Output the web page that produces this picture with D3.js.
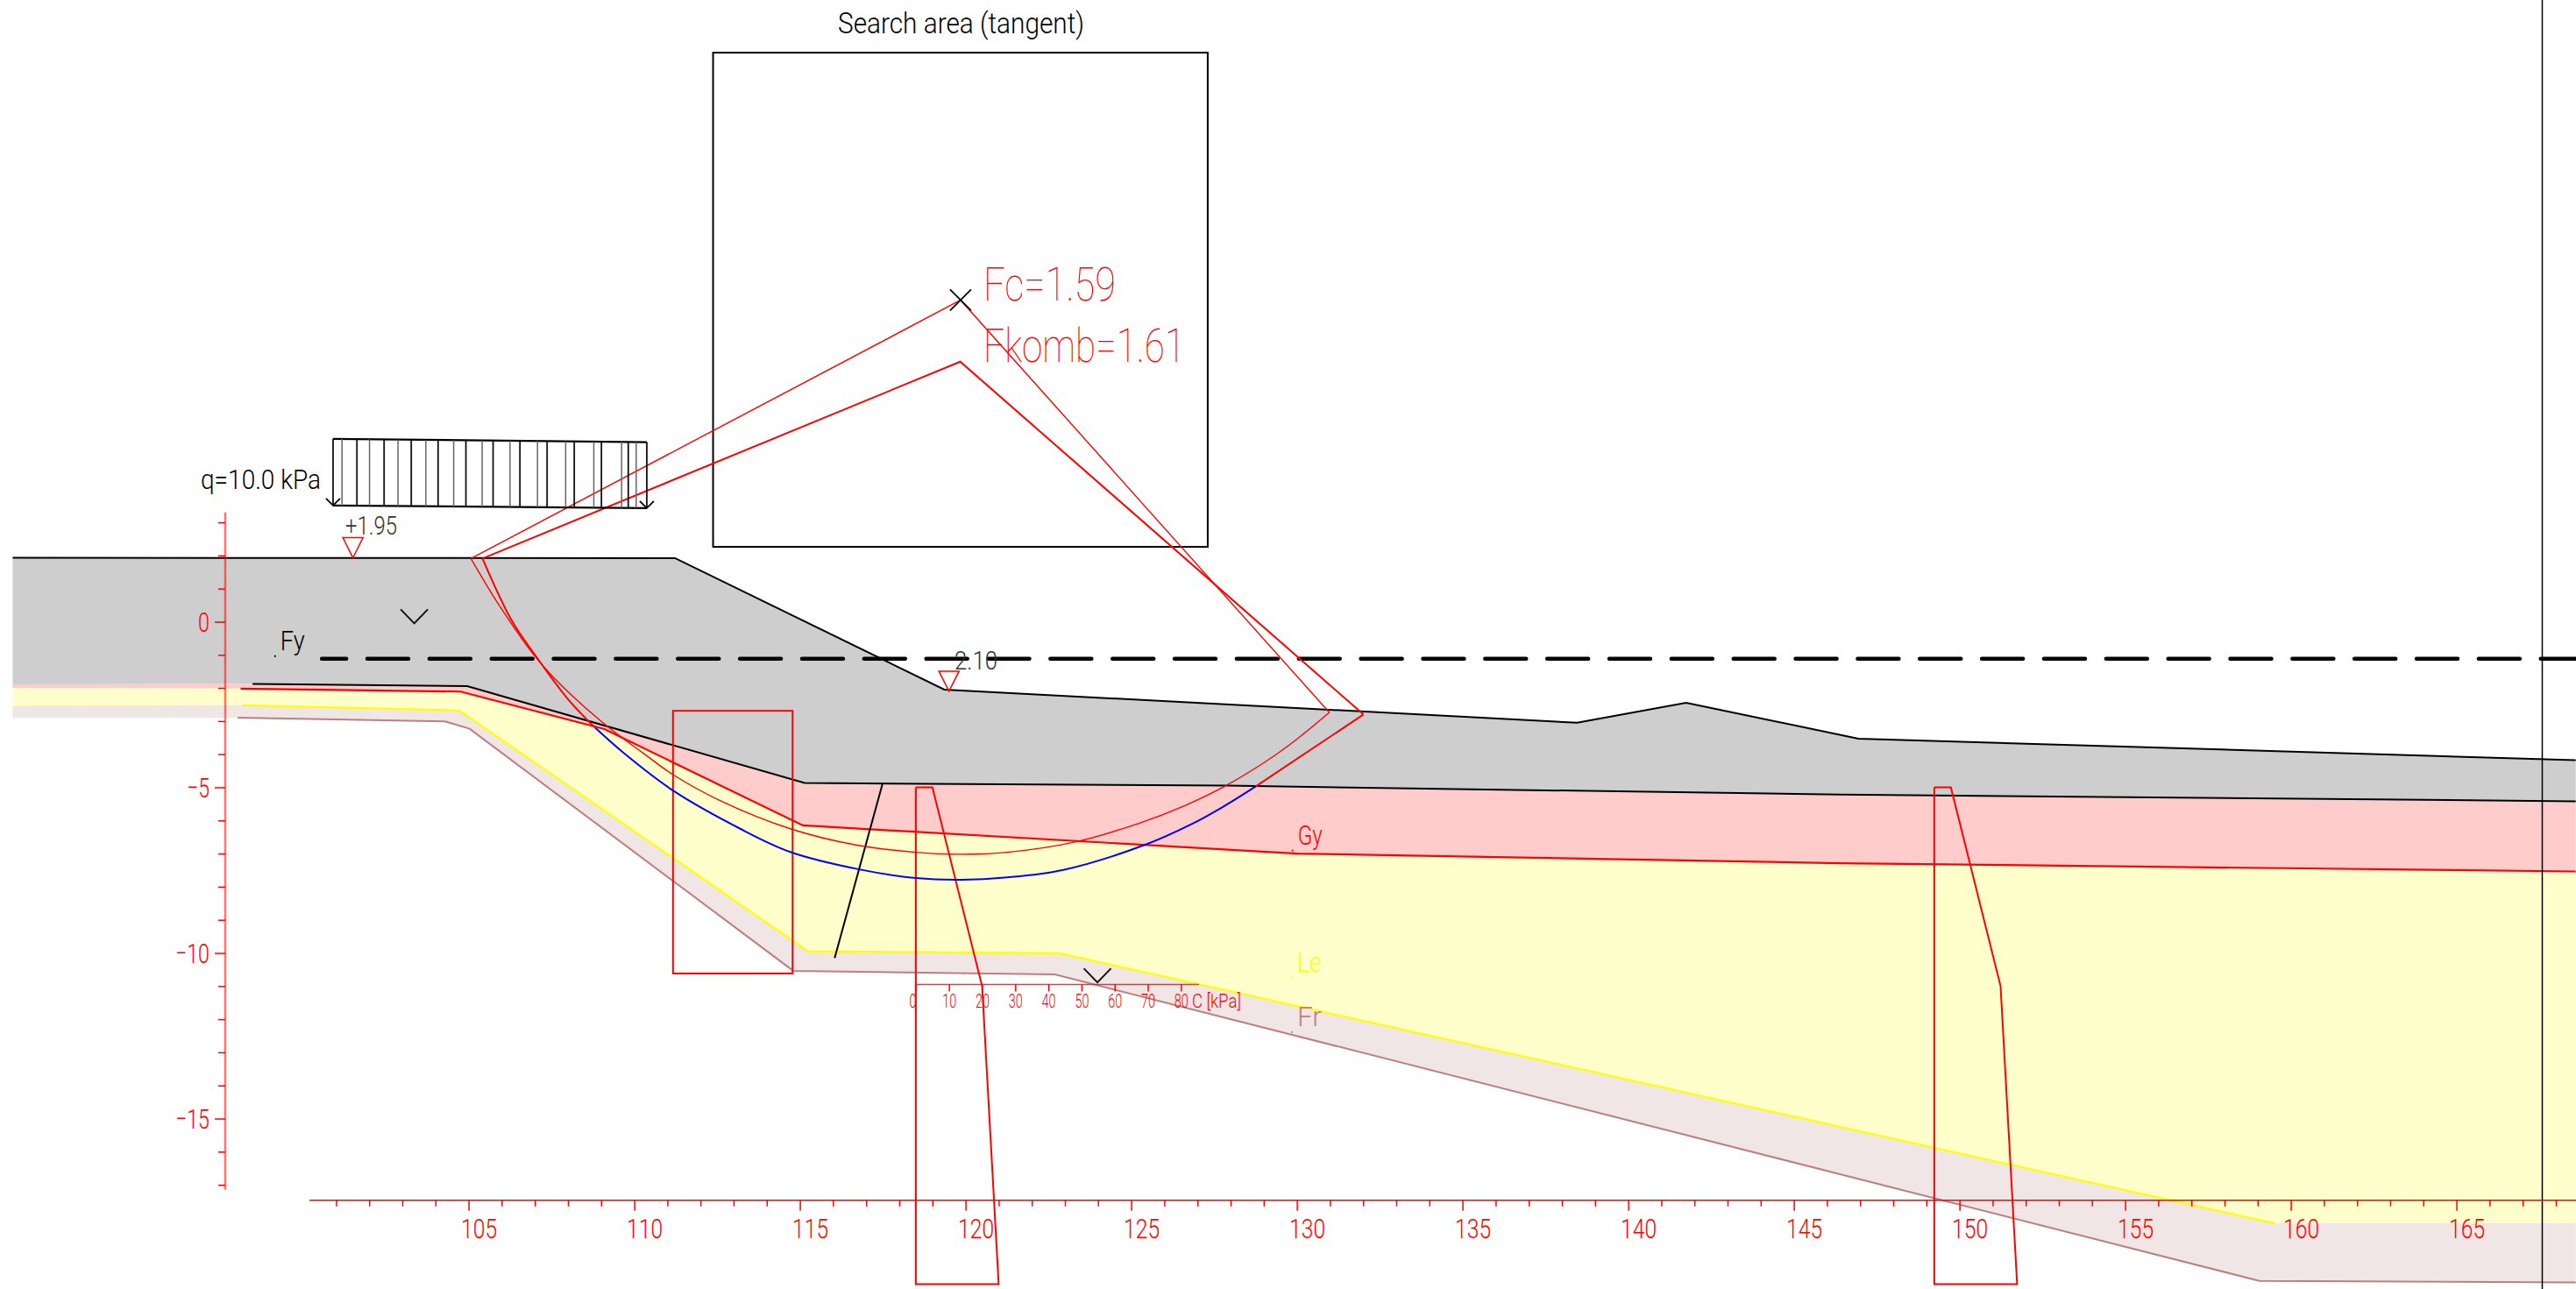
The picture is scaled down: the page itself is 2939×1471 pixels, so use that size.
<!DOCTYPE html>
<html>
  <head>
    <meta charset="utf-8">
    <title>Slope stability section</title>
    <script src="https://cdn.jsdelivr.net/npm/d3@7"></script>
    <style type="text/css">
      body { margin: 0; background: #fff; }
      svg { display: block; }
      text { font-family: Roboto, "Open Sans", sans-serif; font-weight: 300; }
      text.big { font-weight: 100; }
    </style>
  </head>
  <body>
    <script>
    // Layer boundaries, [chainage m, elevation m]
    var groundTop = [[91.24, 1.93], [111.23, 1.92], [119.36, -2.05], [138.46, -3.05], [141.75, -2.45], [146.95, -3.53], [168.6, -4.18]];
    var fyBottom = [[91.24, -1.89], [98.48, -1.88], [104.96, -1.945], [115.14, -4.87], [127.9, -4.95], [146.4, -5.22], [168.6, -5.42]];
    var gyBottom = [[91.24, -2.0], [98.12, -2.02], [104.76, -2.11], [109.1, -3.24], [115.09, -6.15], [130, -7.0], [146.4, -7.29], [168.6, -7.54]];
    var leBottom = [[91.24, -2.53], [98.17, -2.52], [104.72, -2.68], [115.25, -9.95], [122.84, -10.01], [159.5, -18.16], [168.6, -18.16]];
    var frBottom = [[91.24, -2.9], [98.03, -2.9], [104.29, -3.01], [105.03, -3.23], [114.8, -10.54], [122.7, -10.65], [159.05, -19.9], [168.6, -19.95]];

    // Failure surfaces
    var fcCentre = [119.85, 9.71];
    var fcEntry = [105.07, 1.91];
    var fcExit = [130.98, -2.74];
    var fcArc = [[105.07, 1.91], [105.94, 0.47], [106.99, -1.03], [107.88, -2.0], [109.2, -3.17], [110.26, -3.96], [111.16, -4.61], [112.59, -5.4], [114.71, -6.25], [116.69, -6.74], [118.51, -6.96], [119.8, -7.02], [121.25, -6.96], [123.3, -6.65], [125.25, -6.08], [126.62, -5.55], [127.89, -4.93], [129.3, -4.06], [130.06, -3.5], [130.98, -2.74]];
    var kombCentre = [119.84, 7.85];
    var kombEntry = [105.42, 1.91];
    var kombExit = [132.01, -2.8];
    var kombArcRed1 = [[105.42, 1.91], [106.29, 0.06], [106.99, -0.98], [108.01, -2.35], [108.83, -3.21]];
    var kombArcBlue = [[108.83, -3.21], [109.69, -3.97], [111.16, -5.09], [113.2, -6.25], [114.71, -6.95], [116.76, -7.47], [118.51, -7.74], [119.88, -7.79], [121.25, -7.72], [122.92, -7.5], [125.35, -6.76], [126.88, -6.08], [127.85, -5.54], [128.76, -4.97]];
    var kombArcRed2 = [[128.76, -4.97], [132.01, -2.8]];

    // Search area and the block next to the slope
    var searchX = [112.38, 127.31];
    var searchY = [2.26, 17.18];
    var blockX = [111.17, 114.78];
    var blockY = [-10.62, -2.69];
    var blackLine = [[117.49, -4.91], [116.05, -10.15]];

    // Surcharge
    var loadX = [100.91, 110.38];
    var loadTop = [5.52, 5.42];
    var loadBottom = [3.51, 3.43];
    var loadMain = [100.91, 101.63, 102.45, 103.27, 104.08, 104.92, 105.74, 106.55, 107.37, 108.19, 109.01, 109.82, 110.38];
    var loadThin = [101.18, 102.01, 102.87, 103.71, 104.55, 105.41, 106.25, 107.08, 107.93, 108.78, 109.62, 110.06];

    // Shear strength profiles: c [kPa] against elevation
    var profileAt = [118.5, 149.24];
    var profileC = [0, 5, 20, 25, 0];
    var profileZ = [-5, -5, -11, -20, -20];
    var cTicks = [0, 10, 20, 30, 40, 50, 60, 70, 80];
    var cAxisZ = -10.95;
    var cAxisMax = 85.5;

    var waterLevel = -1.116;
    var waterStart = 100.57;
    var sectionLine = 167.59;
    var levelMarks = [[101.51, 1.93, "+1.95"], [119.5, -2.1, "2.10"]];
    var chevrons = [[103.36, -0.05], [123.98, -10.89]];
    var layerLabels = [
      [99.16, -1.04, "Fy", "#000"],
      [129.87, -6.91, "Gy", "#ff0000"],
      [129.85, -10.75, "Le", "#ffff00"],
      [129.85, -12.39, "Fr", "#bc8080"]
    ];

    var xMajor = [105, 110, 115, 120, 125, 130, 135, 140, 145, 150, 155, 160, 165];
    var xMinor = d3.range(101, 169).filter(function(d) { return d % 5 !== 0; });
    var yMajor = [0, -5, -10, -15];
    var yMinor = d3.range(3, -18, -1).filter(function(d) { return d % 5 !== 0; });

    var width = 2939, height = 1471;
    var red = "#ff0000";

    var svg = d3.select("body").append("svg")
      .attr("width", width)
      .attr("height", height);

    // same scale both ways, the section is drawn true to size
    var x = d3.scaleLinear().domain([105, 165]).range([534.6, 2802.6]);
    var y = d3.scaleLinear().domain([0, -15]).range([709.5, 1276.5]);
    var line = d3.line().x(function(d) { return x(d[0]); }).y(function(d) { return y(d[1]); });
    var smooth = d3.line().x(function(d) { return x(d[0]); }).y(function(d) { return y(d[1]); })
      .curve(d3.curveCatmullRom);

    function band(top, bottom, fill) {
      svg.append("path")
        .attr("d", line(top.concat(bottom.slice().reverse())) + "Z")
        .attr("fill", fill);
    }
    function stroke(points, color, w, gen) {
      return svg.append("path")
        .attr("d", (gen || line)(points))
        .attr("fill", "none")
        .attr("stroke", color)
        .attr("stroke-width", w);
    }
    function label(str, px, py, size, w, color, anchor) {
      return svg.append("text")
        .attr("x", px).attr("y", py)
        .attr("font-size", size)
        .attr("fill", color)
        .attr("text-anchor", anchor || "start")
        .attr("textLength", w)
        .attr("lengthAdjust", "spacingAndGlyphs")
        .text(str);
    }

    //Soil layers
    band(groundTop, fyBottom, "#cecece");
    band(fyBottom, gyBottom, "#ffcccc");
    band(gyBottom, leBottom, "#ffffcc");
    band(leBottom, frBottom, "#f0e6e6");

    stroke(groundTop, "#000", 2);
    stroke(fyBottom.slice(1), "#000", 2);
    stroke(gyBottom.slice(1), red, 2.2);
    stroke(leBottom.slice(1, 6), "#ffff00", 2.2);
    stroke(frBottom.slice(1), "#bc8080", 2);

    //Groundwater
    svg.append("line")
      .attr("x1", x(waterStart)).attr("x2", width)
      .attr("y1", y(waterLevel)).attr("y2", y(waterLevel))
      .attr("stroke", "#000")
      .attr("stroke-width", 4.5)
      .attr("stroke-linecap", "round")
      .attr("stroke-dasharray", "47 23.85")
      .attr("stroke-dashoffset", 19);

    //Search area
    svg.append("rect")
      .attr("x", x(searchX[0])).attr("y", y(searchY[1]))
      .attr("width", x(searchX[1]) - x(searchX[0]))
      .attr("height", y(searchY[0]) - y(searchY[1]))
      .attr("fill", "none").attr("stroke", "#000").attr("stroke-width", 2);
    label("Search area (tangent)", 956, 38, 33, 281, "#000");

    //Block and black line
    svg.append("rect")
      .attr("x", x(blockX[0])).attr("y", y(blockY[1]))
      .attr("width", x(blockX[1]) - x(blockX[0]))
      .attr("height", y(blockY[0]) - y(blockY[1]))
      .attr("fill", "none").attr("stroke", red).attr("stroke-width", 2);
    stroke(blackLine, "#000", 2);

    //Strength profiles
    var cAxisScale = d3.scaleLinear().domain([0, 10]).range([0, x(1) - x(0)]);
    profileAt.forEach(function(x0) {
      var pts = profileC.map(function(c, i) {
        return [x.invert(x(x0) + cAxisScale(c)), profileZ[i]];
      });
      pts.push(pts[0]);
      stroke(pts, red, 2);
    });

    //c axis under the first profile
    var cScale = d3.scaleLinear().domain([0, 80])
      .range([x(profileAt[0]), x(profileAt[0]) + cAxisScale(80)]);
    var cAxis = svg.append("g")
      .attr("transform", "translate(0," + y(cAxisZ) + ")")
      .call(d3.axisBottom(cScale).tickValues(cTicks).tickSizeOuter(0).tickSize(8));
    cAxis.select(".domain").remove();
    cAxis.selectAll("line").attr("stroke", red).attr("stroke-width", 1.5);
    cAxis.attr("font-family", null);
    cAxis.selectAll("text")
      .attr("fill", red).attr("y", 27).attr("dy", 0)
      .attr("dx", function(d) { return d === 0 ? -4 : 0; })
      .attr("font-size", 22)
      .attr("textLength", function(d) { return String(d).length * 8; })
      .attr("lengthAdjust", "spacingAndGlyphs");
    svg.append("line")
      .attr("x1", x(profileAt[0])).attr("x2", cScale(cAxisMax))
      .attr("y1", y(cAxisZ)).attr("y2", y(cAxisZ))
      .attr("stroke", red).attr("stroke-width", 1.5).attr("opacity", 0.8);
    label("C [kPa]", x(profileAt[0]) + 315, y(cAxisZ) + 27, 22, 56, red);

    //Failure surfaces
    stroke([fcEntry, fcCentre, fcExit], red, 1.4);
    stroke(fcArc, red, 1.4, smooth);
    stroke([kombEntry, kombCentre, kombExit], red, 2);
    stroke(kombArcRed1, red, 2, smooth);
    stroke(kombArcBlue, "#0000ff", 2, smooth);
    stroke(kombArcRed2, red, 2);

    //Centre cross
    svg.append("path")
      .attr("d", "M-12,-12L12,12M-12,12L12,-12")
      .attr("transform", "translate(" + x(fcCentre[0]) + "," + y(fcCentre[1]) + ")")
      .attr("fill", "none").attr("stroke", "#000").attr("stroke-width", 1.8);
    label("Fc=1.59", 1122, 342.7, 54, 151, red).attr("class", "big");
    label("Fkomb=1.61", 1122, 413.3, 54, 230, red).attr("class", "big");

    //Surcharge q
    var loadTopY = d3.scaleLinear().domain(loadX).range(loadTop);
    var loadBotY = d3.scaleLinear().domain(loadX).range(loadBottom);
    stroke(loadX.map(function(d) { return [d, loadTopY(d)]; }), "#000", 2.2);
    stroke(loadX.map(function(d) { return [d, loadBotY(d)]; }), "#000", 2.2);
    svg.selectAll(".loadMain").data(loadMain).enter().append("line")
      .attr("class", "loadMain")
      .attr("x1", x).attr("x2", x)
      .attr("y1", function(d) { return y(loadTopY(d)); })
      .attr("y2", function(d) { return y(loadBotY(d)); })
      .attr("stroke", "#111").attr("stroke-width", 1.8);
    svg.selectAll(".loadThin").data(loadThin).enter().append("line")
      .attr("class", "loadThin")
      .attr("x1", x).attr("x2", x)
      .attr("y1", function(d) { return y(loadTopY(d)); })
      .attr("y2", function(d) { return y(loadBotY(d)); })
      .attr("stroke", "#666").attr("stroke-width", 1.5);
    svg.selectAll(".loadArrow").data(loadX).enter().append("path")
      .attr("class", "loadArrow")
      .attr("d", "M-8,-8L0,0L8,-8")
      .attr("transform", function(d) { return "translate(" + x(d) + "," + y(loadBotY(d)) + ")"; })
      .attr("fill", "none").attr("stroke", "#000").attr("stroke-width", 1.8);
    label("q=10.0 kPa", 229, 558, 32, 137, "#000");

    //Level marks
    svg.selectAll(".levelMark").data(levelMarks).enter().append("path")
      .attr("class", "levelMark")
      .attr("d", "M-11.5,-23L11.5,-23L0,0Z")
      .attr("transform", function(d) { return "translate(" + x(d[0]) + "," + y(d[1]) + ")"; })
      .attr("fill", "none").attr("stroke", red).attr("stroke-width", 1.5);
    label(levelMarks[0][2], 394, 610, 30, 59, "#333");
    label(levelMarks[1][2], 1089, 764, 30, 49, "#333");

    //Chevrons
    svg.selectAll(".chevron").data(chevrons).enter().append("path")
      .attr("class", "chevron")
      .attr("d", "M-15.5,-16L0,0L15.5,-16")
      .attr("transform", function(d) { return "translate(" + x(d[0]) + "," + y(d[1]) + ")"; })
      .attr("fill", "none").attr("stroke", "#111").attr("stroke-width", 2);

    //Layer names
    layerLabels.forEach(function(d) {
      svg.append("circle")
        .attr("cx", x(d[0])).attr("cy", y(d[1])).attr("r", 1.1).attr("fill", d[3]);
      label(d[2], x(d[0]) + 6, y(d[1]) - 7, 32, 28, d[3]);
    });

    //Section line
    svg.append("line")
      .attr("x1", x(sectionLine)).attr("x2", x(sectionLine))
      .attr("y1", 0).attr("y2", height)
      .attr("stroke", "#000").attr("stroke-width", 1.5);

    //Axes
    var xAxisY = 1369.7;
    function styleAxis(g, color, w) {
      g.select(".domain").remove();
      g.selectAll("line").attr("stroke", color).attr("stroke-width", w);
    }
    svg.append("g").attr("transform", "translate(0," + xAxisY + ")")
      .call(d3.axisBottom(x).tickValues(xMinor).tickSize(7).tickFormat(""))
      .call(styleAxis, red, 1.5);
    var xMaj = svg.append("g").attr("transform", "translate(0," + xAxisY + ")")
      .call(d3.axisBottom(x).tickValues(xMajor).tickSize(12).tickFormat(d3.format("d")))
      .call(styleAxis, red, 1.5);
    xMaj.attr("font-family", null);
    xMaj.selectAll("text")
      .attr("fill", red).attr("font-size", 32)
      .attr("text-anchor", "start")
      .attr("x", -9).attr("y", 43).attr("dy", 0)
      .attr("textLength", 41).attr("lengthAdjust", "spacingAndGlyphs");
    svg.append("line")
      .attr("x1", x(100.2)).attr("x2", width)
      .attr("y1", xAxisY).attr("y2", xAxisY)
      .attr("stroke", red).attr("stroke-width", 1.5);

    var yAxisX = 257;
    svg.append("g").attr("transform", "translate(" + yAxisX + ",0)")
      .call(d3.axisLeft(y).tickValues(yMinor).tickSize(8).tickFormat(""))
      .call(styleAxis, red, 1.5);
    var yMaj = svg.append("g").attr("transform", "translate(" + yAxisX + ",0)")
      .call(d3.axisLeft(y).tickValues(yMajor).tickSize(12))
      .call(styleAxis, red, 1.5);
    yMaj.attr("font-family", null);
    yMaj.selectAll("text")
      .attr("fill", red).attr("font-size", 32)
      .attr("x", -18).attr("dy", "0.35em")
      .attr("textLength", function(d) { return String(y.tickFormat()(d)).length * 13; })
      .attr("lengthAdjust", "spacingAndGlyphs");
    svg.append("line")
      .attr("x1", yAxisX).attr("x2", yAxisX)
      .attr("y1", y(3.3)).attr("y2", y(-17.15))
      .attr("stroke", red).attr("stroke-opacity", 0.55).attr("stroke-width", 2.5);
    </script>
  </body>
</html>
